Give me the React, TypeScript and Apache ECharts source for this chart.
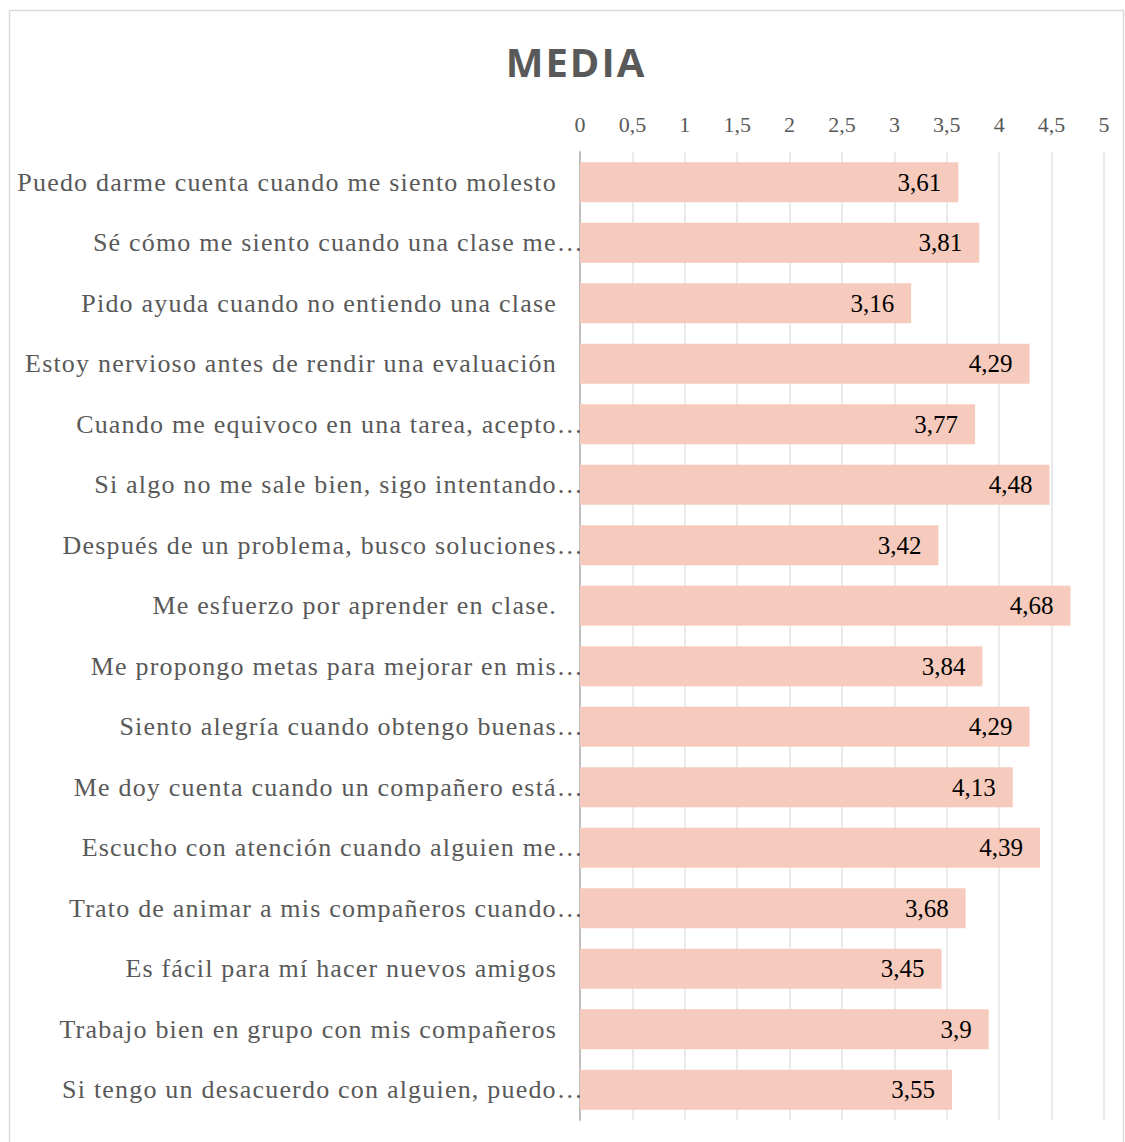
import React, { useEffect, useRef } from "react";
import * as echarts from "echarts";

const categories: string[] = [
  "Puedo darme cuenta cuando me siento molesto",
  "Sé cómo me siento cuando una clase me…",
  "Pido ayuda cuando no entiendo una clase",
  "Estoy nervioso antes de rendir una evaluación",
  "Cuando me equivoco en una tarea, acepto…",
  "Si algo no me sale bien, sigo intentando…",
  "Después de un problema, busco soluciones…",
  "Me esfuerzo por aprender en clase.",
  "Me propongo metas para mejorar en mis…",
  "Siento alegría cuando obtengo buenas…",
  "Me doy cuenta cuando un compañero está…",
  "Escucho con atención cuando alguien me…",
  "Trato de animar a mis compañeros cuando…",
  "Es fácil para mí hacer nuevos amigos",
  "Trabajo bien en grupo con mis compañeros",
  "Si tengo un desacuerdo con alguien, puedo…",
];

const media: number[] = [
  3.61, 3.81, 3.16, 4.29, 3.77, 4.48, 3.42, 4.68, 3.84, 4.29, 4.13, 4.39, 3.68,
  3.45, 3.9, 3.55,
];

const title = "MEDIA";
const axisMin = 0;
const axisMax = 5;
const axisStep = 0.5;

const SERIF = "'Liberation Serif', 'Times New Roman', serif";

export default function App() {
  const ref = useRef<HTMLDivElement>(null);

  useEffect(() => {
    if (!ref.current) return;
    const chart = echarts.init(ref.current, undefined, { renderer: "svg" });
    chart.setOption({
      animation: false,
      backgroundColor: "#ffffff",
      graphic: [
        {
          type: "rect",
          shape: { x: 9.5, y: 10.5, width: 1114, height: 1140 },
          style: { fill: "none", stroke: "#d9d9d9", lineWidth: 1.5 },
          silent: true,
        },
        {
          type: "text",
          x: 576,
          y: 61,
          style: {
            text: title,
            textAlign: "center",
            textVerticalAlign: "middle",
            fontFamily: "'Open Sans', 'Liberation Sans', sans-serif",
            fontWeight: "bold",
            fontSize: 40,
            fill: "#595959",
          },
          silent: true,
        },
      ],
      grid: { left: 580, right: 21, top: 152, bottom: 22, containLabel: false },
      xAxis: {
        type: "value",
        position: "top",
        min: axisMin,
        max: axisMax,
        interval: axisStep,
        axisLine: { show: false },
        axisTick: { show: false },
        axisLabel: {
          margin: 17,
          fontFamily: SERIF,
          fontSize: 22,
          color: "#595959",
          formatter: (v: number) => String(v).replace(".", ","),
        },
        splitLine: { show: true, lineStyle: { color: "#e3e3e3", width: 1.5 } },
      },
      yAxis: {
        type: "category",
        inverse: true,
        data: categories,
        axisLine: { show: true, lineStyle: { color: "#bfbfbf", width: 2 } },
        axisTick: { show: false },
        axisLabel: {
          margin: -4,
          formatter: (v: string) =>
            v.endsWith("…") ? `{t|${v}}` : `{f|${v}}`,
          rich: {
            t: { fontFamily: SERIF, fontSize: 26, color: "#595959" },
            f: {
              fontFamily: SERIF,
              fontSize: 26,
              color: "#595959",
              padding: [0, 27, 0, 0],
            },
          },
        },
      },
      series: [
        {
          type: "bar",
          data: media,
          barWidth: 40,
          itemStyle: { color: "#F6CBBD" },
          label: {
            show: true,
            position: "insideRight",
            distance: 17,
            fontFamily: SERIF,
            fontSize: 25,
            color: "#000000",
            formatter: (p: any) => String(p.value).replace(".", ","),
          },
        },
      ],
    });

    const applySpacing = () => {
      if (!ref.current) return;
      const texts = ref.current.querySelectorAll("text");
      texts.forEach((t) => {
        const s = t.textContent || "";
        if (categories.includes(s)) {
          (t as SVGTextElement).style.letterSpacing = "1.2px";
        } else if (s === title) {
          (t as SVGTextElement).style.letterSpacing = "2px";
        }
      });
    };
    chart.on("finished", applySpacing);
    applySpacing();

    return () => chart.dispose();
  }, []);

  return (
    <div
      ref={ref}
      style={{ position: "fixed", left: 0, top: 0, width: 1125, height: 1142 }}
    />
  );
}
